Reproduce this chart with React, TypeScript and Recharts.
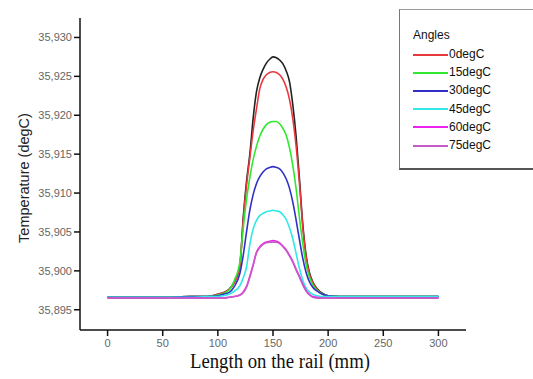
import { Line, LineChart, XAxis, YAxis } from "recharts";

// positions along the rail (mm)
const lengthMm = [
  0, 25, 50, 75, 90, 100, 105, 110, 115, 120, 123, 126, 129, 132, 135, 138, 141, 144, 147, 150,
  153, 156, 159, 162, 165, 168, 171, 174, 177, 180, 183, 186, 190, 195, 200, 210, 225, 250, 275, 300,
];

// unlabelled reference curve (black)
const refCurve = [
  35.8966, 35.8966, 35.8966, 35.8967, 35.8967, 35.897, 35.8972, 35.8976, 35.8986, 35.9008, 35.9068, 35.9115,
  35.915, 35.9196, 35.923, 35.9248, 35.9259, 35.9267, 35.9272, 35.9275, 35.9274, 35.9271, 35.9266, 35.9257,
  35.9243, 35.9213, 35.9172, 35.9118, 35.906, 35.902, 35.8998, 35.8986, 35.8977, 35.8971, 35.8968, 35.8967,
  35.8967, 35.8967, 35.8967, 35.8967,
];
const deg0 = [
  35.8966, 35.8966, 35.8966, 35.8967, 35.8967, 35.897, 35.8972, 35.8976, 35.8985, 35.9006, 35.9065, 35.911,
  35.9145, 35.918, 35.9208, 35.9234, 35.9246, 35.9252, 35.9255, 35.9256, 35.9255, 35.9252, 35.9246, 35.9236,
  35.922, 35.9195, 35.916, 35.9112, 35.9056, 35.9018, 35.8996, 35.8985, 35.8976, 35.897, 35.8968, 35.8967,
  35.8967, 35.8967, 35.8967, 35.8967,
];
const deg15 = [
  35.8966, 35.8966, 35.8966, 35.8967, 35.8967, 35.8969, 35.8971, 35.8975, 35.8988, 35.9012, 35.9055, 35.9092,
  35.912, 35.9143, 35.916, 35.9173, 35.9182, 35.9188, 35.9191, 35.9192, 35.9192, 35.9189, 35.9183, 35.9174,
  35.9158, 35.9135, 35.9105, 35.9068, 35.9035, 35.9008, 35.8992, 35.8982, 35.8975, 35.897, 35.8968, 35.8967,
  35.8967, 35.8967, 35.8967, 35.8967,
];
const deg30 = [
  35.8966, 35.8966, 35.8966, 35.8967, 35.8967, 35.8968, 35.897, 35.8972, 35.898, 35.8997, 35.902, 35.905,
  35.9078, 35.9098, 35.9112, 35.9121, 35.9127, 35.9131, 35.9133, 35.9134, 35.9133, 35.9131, 35.9126, 35.9118,
  35.9106, 35.9088, 35.9065, 35.904, 35.9016, 35.8998, 35.8986, 35.8979, 35.8974, 35.897, 35.8968, 35.8967,
  35.8967, 35.8967, 35.8967, 35.8967,
];
const deg45 = [
  35.8966, 35.8966, 35.8966, 35.8966, 35.8967, 35.8967, 35.8968, 35.897, 35.8974, 35.8981, 35.8991, 35.9005,
  35.9034, 35.9054, 35.9065, 35.9071, 35.9074, 35.9076, 35.9077, 35.9078, 35.9077, 35.9076, 35.9072, 35.9066,
  35.9055, 35.9041, 35.9022, 35.9003, 35.8988, 35.8978, 35.8973, 35.897, 35.8968, 35.8967, 35.8967, 35.8967,
  35.8967, 35.8967, 35.8967, 35.8967,
];
const deg60 = [
  35.8965, 35.8965, 35.8965, 35.8965, 35.8965, 35.8965, 35.8965, 35.8966, 35.8967, 35.8969, 35.8973, 35.898,
  35.8993, 35.9008, 35.9024, 35.9031, 35.9035, 35.9037, 35.9038, 35.9039, 35.9038, 35.9036, 35.9032, 35.9027,
  35.902, 35.9012, 35.9002, 35.8993, 35.8983, 35.8975, 35.897, 35.8967, 35.8966, 35.8965, 35.8965, 35.8965,
  35.8965, 35.8965, 35.8965, 35.8965,
];
const deg75 = [
  35.8965, 35.8965, 35.8965, 35.8965, 35.8965, 35.8965, 35.8965, 35.8966, 35.8967, 35.8969, 35.8972, 35.8979,
  35.8992, 35.9007, 35.9023, 35.903, 35.9034, 35.9036, 35.9037, 35.9037, 35.9037, 35.9035, 35.9031, 35.9026,
  35.9019, 35.9011, 35.9001, 35.8992, 35.8982, 35.8974, 35.8969, 35.8966, 35.8965, 35.8965, 35.8965, 35.8965,
  35.8965, 35.8965, 35.8965, 35.8965,
];

const xTicks = [0, 50, 100, 150, 200, 250, 300];
const yTicks = [35.895, 35.9, 35.905, 35.91, 35.915, 35.92, 35.925, 35.93];

const angleSeries = [
  { key: "deg0", name: "0degC", color: "#e8383d" },
  { key: "deg15", name: "15degC", color: "#2fe82f" },
  { key: "deg30", name: "30degC", color: "#3030c8" },
  { key: "deg45", name: "45degC", color: "#30e8e8" },
  { key: "deg60", name: "60degC", color: "#ee22ee" },
  { key: "deg75", name: "75degC", color: "#c85ac8" },
];

const rows = lengthMm.map((x, i) => ({
  x,
  ref: refCurve[i],
  deg0: deg0[i],
  deg15: deg15[i],
  deg30: deg30[i],
  deg45: deg45[i],
  deg60: deg60[i],
  deg75: deg75[i],
}));

const sans = "'Liberation Sans', Arial, sans-serif";

function AnglesLegend() {
  return (
    <div
      style={{
        position: "absolute",
        left: 399,
        top: 9,
        width: 140,
        height: 158,
        borderTop: "1px solid #999",
        borderLeft: "1px solid #777",
        borderBottom: "2px solid #555",
        background: "#fff",
        fontFamily: sans,
        fontSize: 12,
        color: "#111",
      }}
    >
      <div style={{ position: "absolute", left: 13, top: 18 }}>Angles</div>
      {angleSeries.map((s, i) => (
        <div key={s.key} style={{ position: "absolute", left: 13, top: 37 + i * 18.2, display: "flex", alignItems: "center" }}>
          <span style={{ width: 35, height: 2, background: s.color, display: "inline-block" }} />
          <span style={{ marginLeft: 1, lineHeight: "15px" }}>{s.name}</span>
        </div>
      ))}
    </div>
  );
}

export default function App() {
  return (
    <div style={{ position: "absolute", left: 0, top: 0, width: 533, height: 379, overflow: "hidden", background: "#fff" }}>
      <LineChart width={533} height={379} data={rows} margin={{ top: 18, right: 67, bottom: 0, left: 0 }}>
        <XAxis
          dataKey="x"
          type="number"
          domain={[-25, 325]}
          ticks={xTicks}
          allowDataOverflow
          height={49}
          stroke="#111"
          strokeWidth={1.5}
          tickSize={6}
          tickMargin={3}
          tick={{ fill: "#666", fontSize: 11, fontFamily: sans }}
          label={{
            content: () => (
              <text
                x={280}
                y={368}
                textAnchor="middle"
                textLength={180}
                lengthAdjust="spacingAndGlyphs"
                fill="#111"
                fontSize={20}
                fontFamily="'Liberation Serif', 'Times New Roman', serif"
              >
                Length on the rail (mm)
              </text>
            ),
          }}
        />
        <YAxis
          type="number"
          domain={[35.8924, 35.9325]}
          ticks={yTicks}
          allowDataOverflow
          width={80}
          stroke="#111"
          strokeWidth={1.5}
          tickSize={6}
          tickMargin={2}
          tickFormatter={(v) => Number(v).toFixed(3).replace(".", ",")}
          tick={{ fill: "#666", fontSize: 11, fontFamily: sans }}
          label={{
            content: () => (
              <text
                x={29}
                y={178}
                transform="rotate(-90 29 178)"
                textAnchor="middle"
                fill="#222"
                fontSize={14.5}
                fontFamily={sans}
              >
                Temperature (degC)
              </text>
            ),
          }}
        />
        <Line type="monotone" dataKey="ref" stroke="#222" strokeWidth={1.6} dot={false} isAnimationActive={false} />
        {angleSeries.map((s) => (
          <Line
            key={s.key}
            type="monotone"
            dataKey={s.key}
            name={s.name}
            stroke={s.color}
            strokeWidth={1.6}
            dot={false}
            isAnimationActive={false}
          />
        ))}
      </LineChart>
      <AnglesLegend />
    </div>
  );
}
